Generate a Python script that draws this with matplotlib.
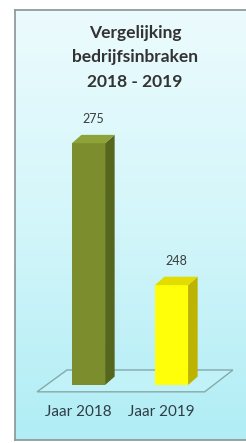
import numpy as np
import matplotlib.pyplot as plt
from matplotlib.patches import Polygon
from matplotlib.colors import LinearSegmentedColormap

plt.rcParams['font.family'] = ['Lato', 'DejaVu Sans']

# Data
categories = ['Jaar 2018', 'Jaar 2019']
values = [275, 248]
baseline = 229
title = 'Vergelijking\nbedrijfsinbraken\n2018 - 2019'

front_colors = ['#7b8d2d', '#ffff0a']
side_colors = ['#56661d', '#bdb300']
top_colors = ['#8ea23a', '#e3dc00']

fig = plt.figure(figsize=(2.46, 4.43), dpi=100)

# Panel with light cyan gradient
bg = fig.add_axes([15 / 246, 3 / 443, 1 - 15 / 246, 430 / 443])
grad = np.linspace(0, 1, 256).reshape(-1, 1)
cmap = LinearSegmentedColormap.from_list('bg', ['#b0edf5', '#d3f6fa', '#ecfbfd'])
bg.imshow(grad, cmap=cmap, aspect='auto', origin='lower', extent=[0, 1, 0, 1])
bg.set_xticks([])
bg.set_yticks([])
for side in ['left', 'top', 'bottom']:
    bg.spines[side].set_color('#8f9c9e')
    bg.spines[side].set_linewidth(1.3)
bg.spines['right'].set_visible(False)

# Chart area
ax = fig.add_axes([0, 37 / 443, 1, 289 / 443])
ax.patch.set_alpha(0)
ax.axis('off')
ax.set_xlim(-88.5 / 83, (246 - 88.5) / 83)
ax.set_ylim(225, 280)

x = np.arange(len(categories))
width = 0.4
dx, dy = 0.115, 1.6  # fake depth

# Floor
floor = Polygon([(x[0] - 0.62, baseline - 1.3), (x[-1] + 0.40, baseline - 1.3),
                 (x[-1] + 0.74, baseline + 2.85), (x[0] - 0.26, baseline + 2.85)],
                closed=True, facecolor='#c0f2f7', edgecolor='#86a9ab', lw=1.0, zorder=1)
ax.add_patch(floor)

heights = [v - baseline for v in values]
ax.bar(x, heights, bottom=baseline, width=width, color=front_colors, zorder=2)

for i, v in enumerate(values):
    l, r = x[i] - width / 2, x[i] + width / 2
    ax.add_patch(Polygon([(r, baseline), (r + dx, baseline + dy), (r + dx, v + dy), (r, v)],
                         closed=True, facecolor=side_colors[i], lw=0, zorder=2))
    ax.add_patch(Polygon([(l, v), (l + dx, v + dy), (r + dx, v + dy), (r, v)],
                         closed=True, facecolor=top_colors[i], lw=0, zorder=2))
    ax.annotate(str(v), (x[i] + dx / 2, v + dy), xytext=(0, 7), textcoords='offset points',
                ha='center', va='bottom', fontsize=9, color='#3c3c3c')
    ax.annotate(categories[i], (x[i], baseline), xytext=(-7.5, -19.5), textcoords='offset points',
                ha='center', va='center', fontsize=11, color='#2f3d48')

fig.text(135 / 246, 1 - 25 / 443, title, ha='center', va='top', fontsize=12.5,
         fontweight='bold', color='#333333', linespacing=1.65)

fig.savefig('out.png', dpi=100)
